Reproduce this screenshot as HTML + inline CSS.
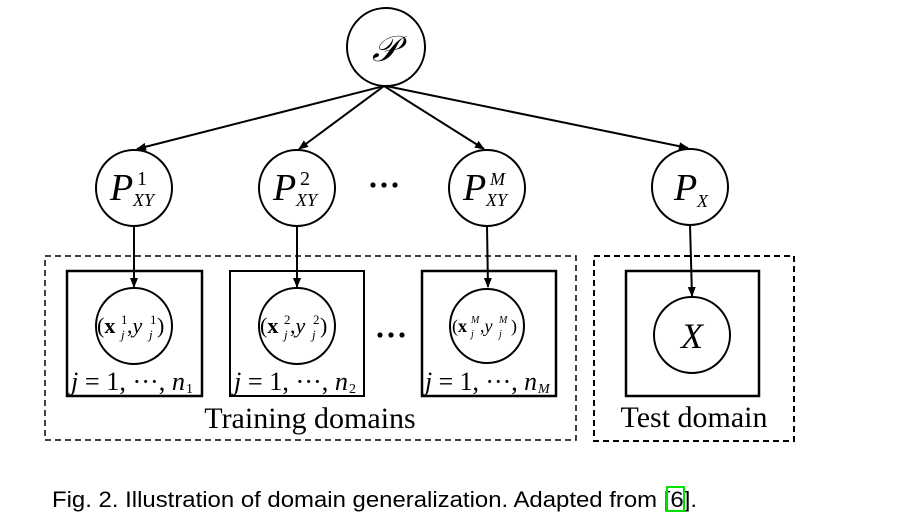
<!DOCTYPE html>
<html><head><meta charset="utf-8"><style>
html,body{margin:0;padding:0;background:#fff;}
svg{display:block;}
.m{font-family:"Liberation Serif",serif;font-style:italic;}
.r{font-family:"Liberation Serif",serif;}
</style></head><body>
<svg width="900" height="520" viewBox="0 0 900 520" xmlns="http://www.w3.org/2000/svg">
<defs><marker id="a" markerWidth="10" markerHeight="10" refX="9" refY="5" orient="auto" markerUnits="userSpaceOnUse"><path d="M0,1 L10,5 L0,9 Z" fill="#000"/></marker></defs>
<g fill="none" stroke="#000" stroke-width="2">
<circle cx="386" cy="47" r="39"/>
<circle cx="134" cy="188" r="38"/>
<circle cx="297" cy="188" r="38"/>
<circle cx="487" cy="188" r="38"/>
<circle cx="690" cy="187" r="38"/>
<rect x="45" y="256" width="531" height="184" stroke-dasharray="6,4" stroke-width="1.5"/>
<rect x="594" y="256" width="200" height="185" stroke-dasharray="6,4"/>
<rect x="67" y="271" width="135" height="125" stroke-width="2.5"/>
<rect x="230" y="271" width="134" height="125" stroke-width="2"/>
<rect x="422" y="271" width="134" height="125" stroke-width="2.5"/>
<rect x="626" y="271" width="133" height="125" stroke-width="2.5"/>
<circle cx="134" cy="326" r="38"/>
<circle cx="297" cy="326" r="38"/>
<circle cx="487" cy="326" r="37"/>
<circle cx="692" cy="335" r="38"/>
</g>
<g stroke="#000" stroke-width="2" marker-end="url(#a)">
<line x1="384" y1="86" x2="137" y2="149"/>
<line x1="384" y1="86" x2="299" y2="149"/>
<line x1="384" y1="86" x2="484" y2="149"/>
<line x1="386" y1="86" x2="688" y2="148"/>
<line x1="134" y1="226" x2="134" y2="287"/>
<line x1="297" y1="226" x2="297" y2="287"/>
<line x1="487" y1="226" x2="488" y2="287"/>
<line x1="690" y1="225" x2="692" y2="296"/>
</g>
<text x="372" y="61" class="m" font-size="36">𝒫</text>
<text x="110" y="200" class="m" font-size="38">P</text><text x="137" y="185" class="r" font-size="20">1</text><text x="133" y="206" class="m" font-size="18">XY</text>
<text x="273" y="200" class="m" font-size="38">P</text><text x="300" y="185" class="r" font-size="20">2</text><text x="296" y="206" class="m" font-size="18">XY</text>
<text x="463" y="200" class="m" font-size="38">P</text><text x="490" y="185" class="m" font-size="18">M</text><text x="486" y="206" class="m" font-size="18">XY</text>
<text x="674" y="200" class="m" font-size="38">P</text><text x="697" y="207" class="m" font-size="18">X</text>
<text x="692" y="348" class="m" font-size="36" text-anchor="middle">X</text>
<g fill="#000"><circle cx="373" cy="185" r="2.6"/><circle cx="384" cy="185" r="2.6"/><circle cx="395" cy="185" r="2.6"/>
<circle cx="380" cy="335" r="2.6"/><circle cx="391" cy="335" r="2.6"/><circle cx="402" cy="335" r="2.6"/></g>
<g class="r">
<text x="97" y="333" font-size="22">(<tspan font-weight="bold">x</tspan></text><text x="121" y="324" class="r" font-size="13">1</text><text x="121" y="339" class="m" font-size="13">j</text><text x="127" y="333" font-size="22">,<tspan class="m">y</tspan></text><text x="150" y="324" font-size="13">1</text><text x="149" y="339" class="m" font-size="13">j</text><text x="157" y="333" font-size="22">)</text>
<text x="260" y="333" font-size="22">(<tspan font-weight="bold">x</tspan></text><text x="284" y="324" font-size="13">2</text><text x="284" y="339" class="m" font-size="13">j</text><text x="290" y="333" font-size="22">,<tspan class="m">y</tspan></text><text x="313" y="324" font-size="13">2</text><text x="312" y="339" class="m" font-size="13">j</text><text x="320" y="333" font-size="22">)</text>
<text x="452" y="332" font-size="18">(<tspan font-weight="bold">x</tspan></text><text x="471" y="323" class="m" font-size="10">M</text><text x="471" y="337" class="m" font-size="10">j</text><text x="480" y="332" font-size="18">,<tspan class="m">y</tspan></text><text x="499" y="323" class="m" font-size="10">M</text><text x="499" y="337" class="m" font-size="10">j</text><text x="511" y="332" font-size="18">)</text>
</g>
<g font-size="26" class="r">
<text x="71" y="390" textLength="114" lengthAdjust="spacingAndGlyphs"><tspan class="m">j</tspan> = 1, ···, <tspan class="m">n</tspan></text><text x="186" y="393" font-size="14" class="r">1</text>
<text x="234" y="390" textLength="114" lengthAdjust="spacingAndGlyphs"><tspan class="m">j</tspan> = 1, ···, <tspan class="m">n</tspan></text><text x="349" y="393" font-size="14" class="r">2</text>
<text x="425" y="390" textLength="112" lengthAdjust="spacingAndGlyphs"><tspan class="m">j</tspan> = 1, ···, <tspan class="m">n</tspan></text><text x="538" y="393" font-size="14" class="m">M</text>
</g>
<text x="310" y="428" text-anchor="middle" class="r" font-size="30">Training domains</text>
<text x="694" y="427" text-anchor="middle" class="r" font-size="30">Test domain</text>
<text x="52" y="507" font-family="Liberation Sans,sans-serif" font-size="22" textLength="645" lengthAdjust="spacingAndGlyphs">Fig. 2. Illustration of domain generalization. Adapted from [6].</text>
<rect x="667" y="487" width="17" height="24" fill="none" stroke="#00e000" stroke-width="2"/>
</svg>
</body></html>
